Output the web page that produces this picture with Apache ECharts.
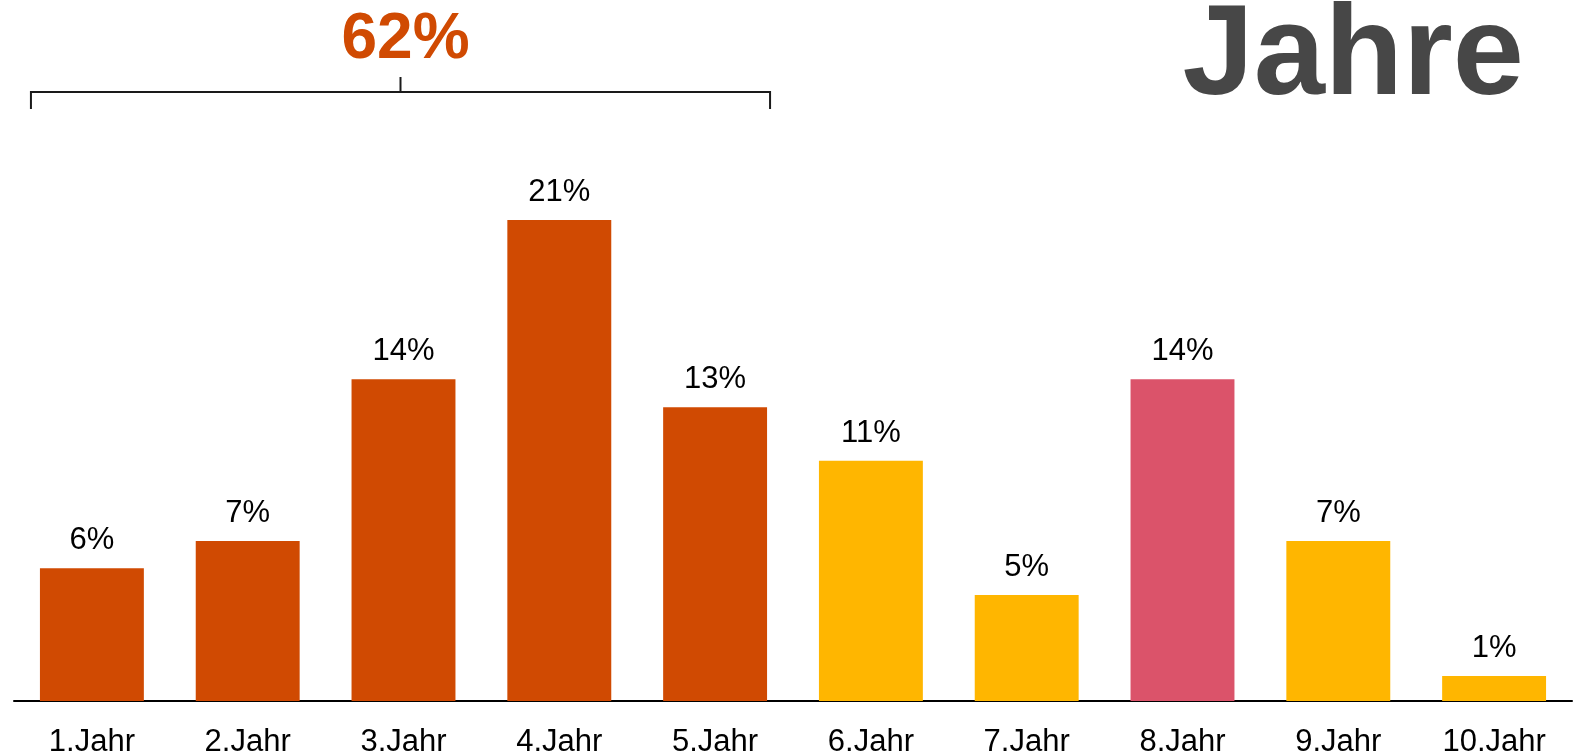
<!DOCTYPE html>
<html>
<head>
<meta charset="utf-8">
<script src="https://cdn.jsdelivr.net/npm/echarts@6/dist/echarts.min.js"></script>
<style>
html,body{margin:0;padding:0;background:#fff;}
#chart{width:1586px;height:754px;}
</style>
</head>
<body>
<div id="chart"></div>
<script>
const categories = ['1.Jahr','2.Jahr','3.Jahr','4.Jahr','5.Jahr','6.Jahr','7.Jahr','8.Jahr','9.Jahr','10.Jahr'];
const values = [5.92, 7.14, 14.35, 21.45, 13.1, 10.72, 4.73, 14.35, 7.14, 1.12];
const barColors = ['#D04A02','#D04A02','#D04A02','#D04A02','#D04A02','#FFB600','#FFB600','#DB536A','#FFB600','#FFB600'];
const bracketLabel = '62%';
const bracketFrom = 0;
const bracketTo = 4;
const titleText = 'Jahre';

const FONT = '"Liberation Sans", Arial, sans-serif';
const chart = echarts.init(document.getElementById('chart'), null, {renderer:'canvas'});

const option = {
  animation: false,
  backgroundColor: '#ffffff',
  grid: {left: 14, right: 14, top: 140.5, bottom: 53, containLabel: false, outerBoundsMode: 'none'},
  xAxis: {
    type: 'category',
    data: categories,
    axisLine: {show: true, lineStyle: {color: '#000', width: 2}},
    axisTick: {show: false},
    axisLabel: {color: '#000', fontSize: 31, fontFamily: FONT, margin: 26}
  },
  yAxis: {
    type: 'value', min: 0, max: 25, show: false,
    splitLine: {show: false}
  },
  series: [{
    type: 'bar',
    data: values.map((v, i) => ({value: v, itemStyle: {color: barColors[i]}})),
    barCategoryGap: '33.3%',
    label: {
      show: true, position: 'top', distance: 12,
      color: '#000', fontSize: 31, fontFamily: FONT,
      formatter: p => Math.round(p.value) + '%'
    }
  }]
};
chart.setOption(option);

function drawAnnotations() {
  const c0 = chart.convertToPixel({xAxisIndex: 0}, categories[bracketFrom]);
  const c1 = chart.convertToPixel({xAxisIndex: 0}, categories[bracketTo]);
  const catW = chart.convertToPixel({xAxisIndex: 0}, categories[1]) - chart.convertToPixel({xAxisIndex: 0}, categories[0]);
  const halfBar = catW * 0.667 / 2;
  const left = c0 - halfBar - 9;
  const right = c1 + halfBar + 3;
  const mid = (left + right) / 2;
  chart.setOption({
    graphic: [
      {type: 'polyline', shape: {points: [[left, 109], [left, 92], [right, 92], [right, 109]]},
       style: {stroke: '#1a1a1a', lineWidth: 2, fill: null}},
      {type: 'line', shape: {x1: mid, y1: 77, x2: mid, y2: 92},
       style: {stroke: '#1a1a1a', lineWidth: 2}},
      {type: 'text', x: mid + 5, y: 40,
       style: {text: bracketLabel, fill: '#D04A02', font: 'bold 64px ' + FONT, align: 'center', verticalAlign: 'middle'}},
      {type: 'text', x: 1524, y: 58.5,
       style: {text: titleText, fill: '#474747', font: 'bold 128px ' + FONT, align: 'right', verticalAlign: 'middle'}}
    ]
  });
}
drawAnnotations();
</script>
</body>
</html>
